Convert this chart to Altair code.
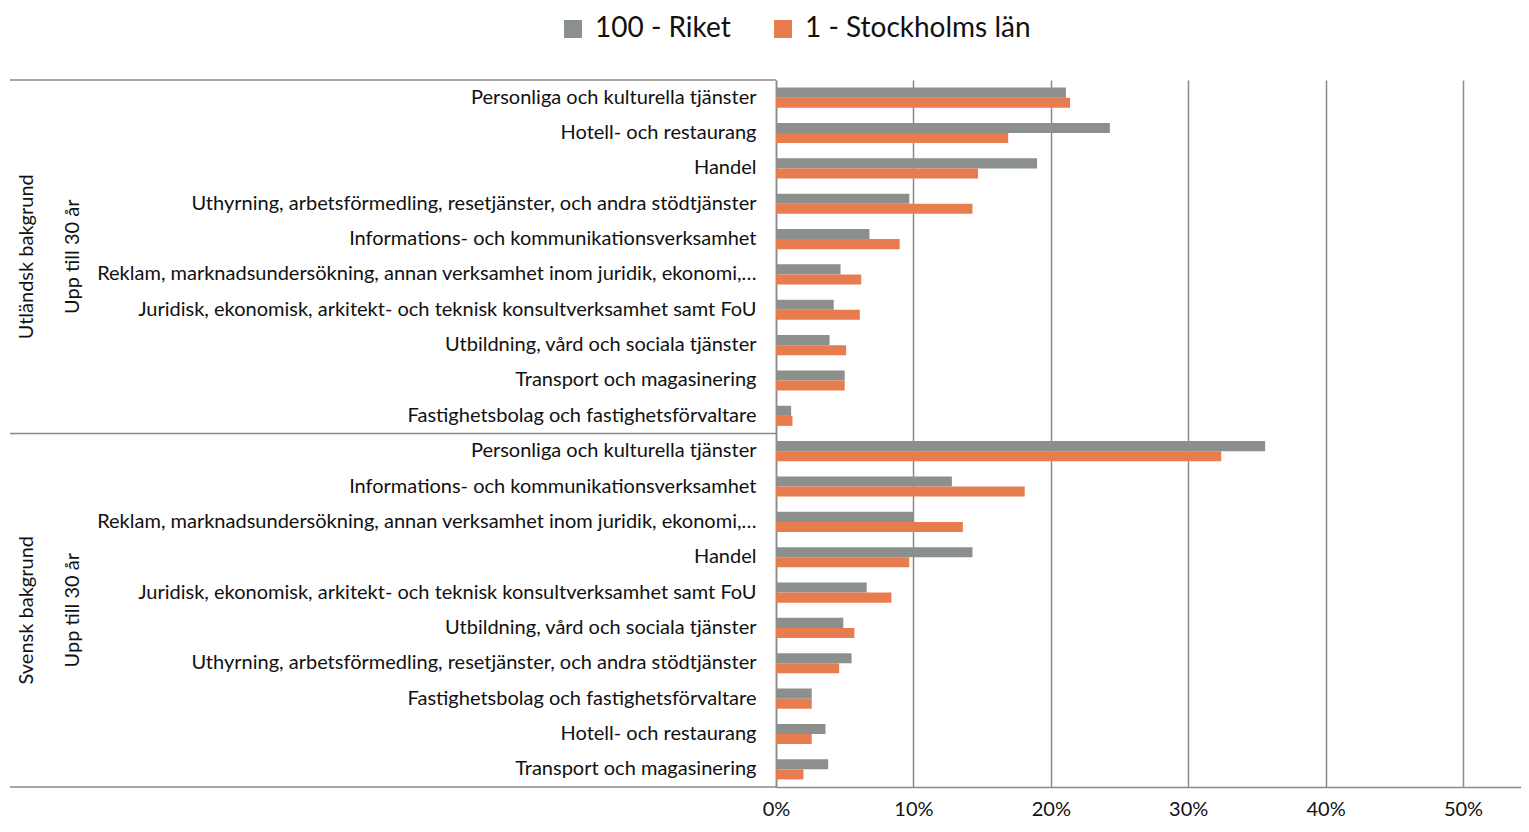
import altair as alt
import pandas as pd

# ---------------- data ----------------
series = ["100 - Riket", "1 - Stockholms län"]
colors = ["#8B908D", "#E77D4F"]
groups = ["Utländsk bakgrund", "Svensk bakgrund"]
age_label = "Upp till 30 år"

cats_utl = [
    "Personliga och kulturella tjänster",
    "Hotell- och restaurang",
    "Handel",
    "Uthyrning, arbetsförmedling, resetjänster, och andra stödtjänster",
    "Informations- och kommunikationsverksamhet",
    "Reklam, marknadsundersökning, annan verksamhet inom juridik, ekonomi,…",
    "Juridisk, ekonomisk, arkitekt- och teknisk konsultverksamhet samt FoU",
    "Utbildning, vård och sociala tjänster",
    "Transport och magasinering",
    "Fastighetsbolag och fastighetsförvaltare",
]
riket_utl = [21.1, 24.3, 19.0, 9.7, 6.8, 4.7, 4.2, 3.9, 5.0, 1.1]
sthlm_utl = [21.4, 16.9, 14.7, 14.3, 9.0, 6.2, 6.1, 5.1, 5.0, 1.2]

cats_sv = [
    "Personliga och kulturella tjänster",
    "Informations- och kommunikationsverksamhet",
    "Reklam, marknadsundersökning, annan verksamhet inom juridik, ekonomi,…",
    "Handel",
    "Juridisk, ekonomisk, arkitekt- och teknisk konsultverksamhet samt FoU",
    "Utbildning, vård och sociala tjänster",
    "Uthyrning, arbetsförmedling, resetjänster, och andra stödtjänster",
    "Fastighetsbolag och fastighetsförvaltare",
    "Hotell- och restaurang",
    "Transport och magasinering",
]
riket_sv = [35.6, 12.8, 10.0, 14.3, 6.6, 4.9, 5.5, 2.6, 3.6, 3.8]
sthlm_sv = [32.4, 18.1, 13.6, 9.7, 8.4, 5.7, 4.6, 2.6, 2.6, 2.0]

x_ticks = [0, 0.1, 0.2, 0.3, 0.4, 0.5]

# ---------------- tables ----------------
rows, keys = [], []
for gi, (cats, r, s) in enumerate([(cats_utl, riket_utl, sthlm_utl), (cats_sv, riket_sv, sthlm_sv)]):
    for ci, c in enumerate(cats):
        key = f"{gi * 10 + ci:02d}|{c}"
        keys.append(key)
        rows.append({"key": key, "series": series[0], "value": r[ci] / 100})
        rows.append({"key": key, "series": series[1], "value": s[ci] / 100})
df = pd.DataFrame(rows)

n_rows = len(keys)
sep_df = pd.DataFrame({"pos": [0, n_rows // 2, n_rows]})
grp_df = pd.DataFrame({"label": groups, "pos": [n_rows / 4, 3 * n_rows / 4]})
age_df = pd.DataFrame({"label": [age_label, age_label], "pos": [n_rows / 4, 3 * n_rows / 4]})

W, H = 745, 707
FONT = "Lato"
GRID = "#8a8a8a"
TXT = "#111111"
FS = 20
qscale = alt.Scale(domain=[0, n_rows], reverse=True, nice=False, zero=False)

bars = alt.Chart(df).mark_bar().encode(
    x=alt.X(
        "value:Q",
        scale=alt.Scale(domain=[0, 0.5422], nice=False),
        axis=alt.Axis(values=x_ticks, format=".0%", grid=True, gridColor=GRID, gridWidth=1.5,
                      ticks=False, domain=True, domainColor=GRID, domainWidth=1.5,
                      labelFlush=False, labelPadding=12, labelFontSize=20, labelColor=TXT, title=None),
    ),
    y=alt.Y(
        "key:N", sort=keys,
        scale=alt.Scale(paddingInner=0.43, paddingOuter=0.215),
        axis=alt.Axis(labelExpr="split(datum.label, '|')[1]", ticks=False, domain=True,
                      domainColor=GRID, domainWidth=1.5, labelPadding=20, labelLimit=760,
                      labelFontSize=FS, labelColor=TXT, title=None, grid=False),
    ),
    yOffset=alt.YOffset("series:N", sort=series, scale=alt.Scale(paddingInner=0, paddingOuter=0)),
    color=alt.Color(
        "series:N", sort=series,
        scale=alt.Scale(domain=series, range=colors),
        legend=alt.Legend(orient="none", legendX=-217, legendY=-65, direction="horizontal",
                          title=None, symbolType="square", symbolSize=324, symbolStrokeWidth=0,
                          labelFontSize=28, labelLimit=400, labelColor=TXT, columnPadding=38,
                          labelOffset=8),
    ),
)

rules = alt.Chart(sep_df).mark_rule(color=GRID, strokeWidth=1.5).encode(
    y=alt.Y("pos:Q", scale=qscale, axis=None),
    x=alt.value(-766),
    x2=alt.value(0),
)

grp_text = alt.Chart(grp_df).mark_text(angle=270, fontSize=FS, color=TXT, align="center", baseline="middle").encode(
    y=alt.Y("pos:Q", scale=qscale, axis=None),
    x=alt.value(-749),
    text="label:N",
)

age_text = alt.Chart(age_df).mark_text(angle=270, fontSize=FS, color=TXT, align="center", baseline="middle").encode(
    y=alt.Y("pos:Q", scale=qscale, axis=None),
    x=alt.value(-703),
    text="label:N",
)

chart = (
    alt.layer(bars, rules, grp_text, age_text)
    .resolve_scale(y="independent")
    .properties(
        width=W, height=H,
        padding={"left": 768, "top": 72, "right": 0, "bottom": 40},
        autosize=alt.AutoSizeParams(type="none"),
    )
    .configure(font=FONT)
    .configure_view(stroke=None)
)

chart.save("out.html", embed_options={"renderer": "svg", "actions": False})
